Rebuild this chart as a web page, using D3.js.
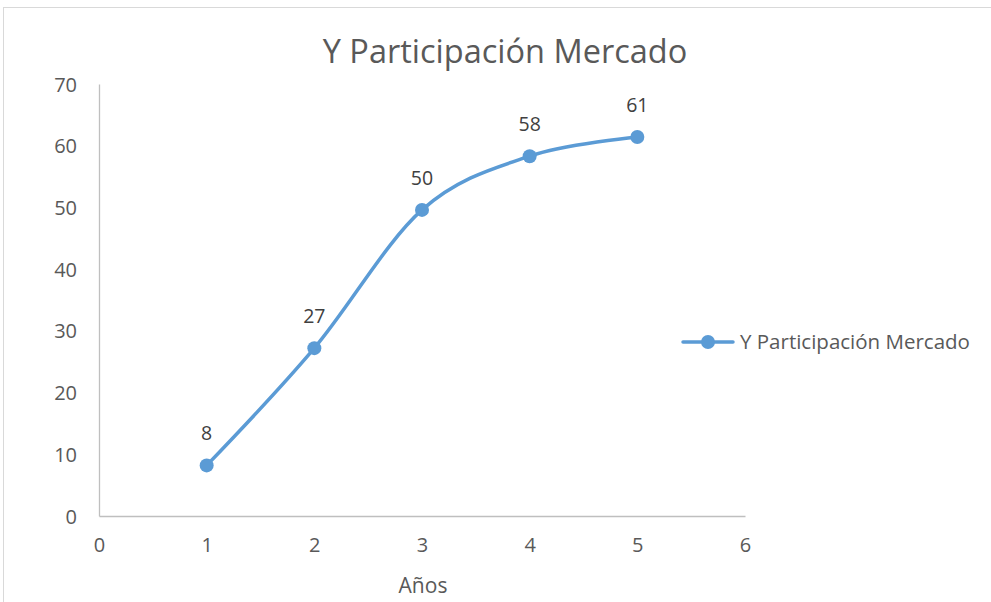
<!DOCTYPE html>
<html><head><meta charset="utf-8">
<script src="https://cdn.jsdelivr.net/npm/d3@7"></script>
<style>body{margin:0;background:#fff;} text{font-family:"Open Sans",sans-serif;}</style>
</head><body><svg id="c" width="991" height="602"></svg>
<script>
const years = [1, 2, 3, 4, 5];
const participation = [8.2, 27.2, 49.6, 58.3, 61.4];
const xTicks = [0, 1, 2, 3, 4, 5, 6];
const yTicks = [0, 10, 20, 30, 40, 50, 60, 70];
const title = "Y Participación Mercado";
const seriesName = "Y Participación Mercado";
const xTitle = "Años";

const svg = d3.select("#c");
const color = "#5b9bd5";
const font = "'Open Sans',sans-serif";
svg.append("rect").attr("x",3.5).attr("y",7.5).attr("width",1000).attr("height",700)
  .attr("fill","#fff").attr("stroke","#d9d9d9");

const x = d3.scaleLinear().domain([0,6]).range([99,745]);
const y = d3.scaleLinear().domain([0,70]).range([516,84]);

const xAxis = svg.append("g").attr("transform","translate(0,516)")
  .call(d3.axisBottom(x).tickValues(xTicks).tickFormat(d3.format("d")).tickSize(0).tickPadding(22));
const yAxis = svg.append("g").attr("transform","translate(99,0)")
  .call(d3.axisLeft(y).tickValues(yTicks).tickFormat(d3.format("d")).tickSize(0).tickPadding(22));
[xAxis,yAxis].forEach(a=>{
  a.select(".domain").attr("stroke","#bfbfbf").attr("stroke-width",1.3);
  a.selectAll("text").attr("fill","#595959").style("font-size","20px").style("font-family",font);
});
yAxis.selectAll("text").attr("dy","0.35em");

svg.append("text").attr("x",505).attr("y",63).attr("text-anchor","middle")
  .attr("fill","#595959").style("font-size","32.5px").style("font-family",font).text(title);
svg.append("text").attr("x",423).attr("y",593).attr("text-anchor","middle")
  .attr("fill","#595959").style("font-size","21px").style("font-family",font).text(xTitle);

const data = years.map((d,i)=>({x:d,y:participation[i]}));
const line = d3.line().x(d=>x(d.x)).y(d=>y(d.y)).curve(d3.curveCatmullRom.alpha(0));
svg.append("path").datum(data).attr("d",line).attr("fill","none")
  .attr("stroke",color).attr("stroke-width",3.5).attr("stroke-linecap","round");
svg.selectAll("circle.pt").data(data).join("circle").attr("class","pt")
  .attr("cx",d=>x(d.x)).attr("cy",d=>y(d.y)).attr("r",7).attr("fill",color);
svg.selectAll("text.lbl").data(data).join("text").attr("class","lbl")
  .attr("x",d=>x(d.x)).attr("y",d=>y(d.y)-25).attr("text-anchor","middle")
  .attr("fill","#404040").style("font-size","19.5px").style("font-family",font).text(d=>Math.round(d.y));

// legend
const lg = svg.append("g").attr("transform","translate(683,342)");
lg.append("line").attr("x1",0).attr("x2",50).attr("stroke",color).attr("stroke-width",3.5).attr("stroke-linecap","round");
lg.append("circle").attr("cx",25).attr("r",7).attr("fill",color);
lg.append("text").attr("x",57).attr("dy","0.35em").attr("fill","#595959").style("font-size","20.5px").style("font-family",font).text(seriesName);
</script></body></html>
